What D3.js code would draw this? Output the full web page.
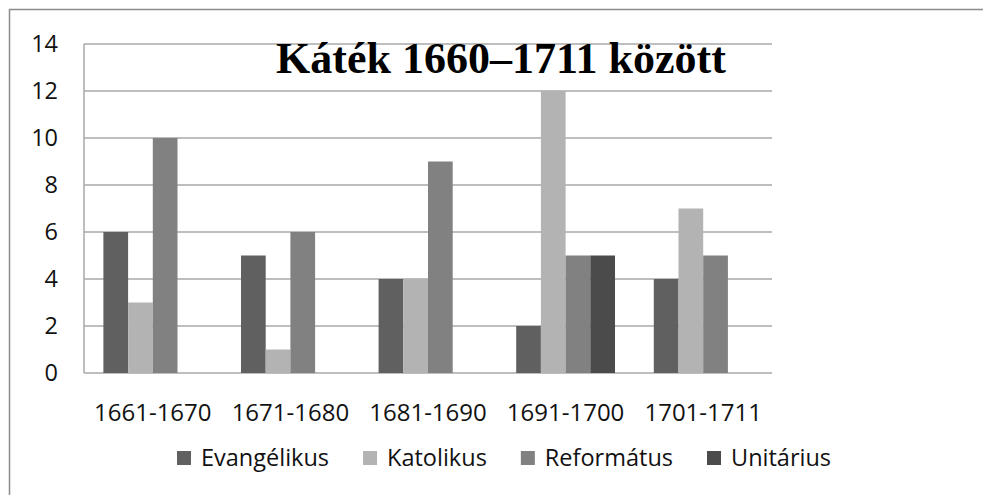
<!doctype html>
<html>
    <head>
        <meta charset="utf-8">
        <title>Káték 1660–1711 között</title>
        <style>
            body {
                margin: 0;
                overflow: hidden;
                background: #fff;
            }
            text {
                font-family: 'Open Sans', sans-serif;
                fill: #111;
            }
        </style>
    </head>
    <body>
        <script src="https://cdn.jsdelivr.net/npm/d3@7"></script>
        <script>

            const periods = ['1661-1670', '1671-1680', '1681-1690', '1691-1700', '1701-1711'];
            const series = ['Evangélikus', 'Katolikus', 'Református', 'Unitárius'];
            const evangelikus = [6, 5, 4, 2, 4];
            const katolikus = [3, 1, 4, 12, 7];
            const reformatus = [10, 6, 9, 5, 5];
            const unitarius = [0, 0, 0, 5, 0];
            const yTicks = [0, 2, 4, 6, 8, 10, 12, 14];
            const title = 'Káték 1660–1711 között';

            const colors = ['#606060', '#b3b3b3', '#818181', '#4b4b4b'];
            const values = [evangelikus, katolikus, reformatus, unitarius];

            const width = 983;
            const height = 495;

            const svg = d3.select('body')
                .append('svg')
                .attr('width', width)
                .attr('height', height);

            // outer frame, runs off the right and bottom edges
            svg.append('rect')
                .attr('x', 9.5)
                .attr('y', 9.5)
                .attr('width', width + 10)
                .attr('height', height + 10)
                .attr('fill', 'none')
                .attr('stroke', '#8c8c8c')
                .attr('stroke-width', 1.5);

            const x0 = d3.scaleBand()
                .domain(periods)
                .range([84, 772]);

            const x1 = d3.scaleBand()
                .domain(series)
                .range([0, x0.bandwidth()])
                .paddingOuter(0.785);

            const y = d3.scaleLinear()
                .domain([0, 14])
                .range([373, 44]);

            // gridlines
            svg.append('g')
                .selectAll('line')
                .data(yTicks)
                .join('line')
                .attr('x1', 84)
                .attr('x2', 772)
                .attr('y1', (d) => y(d))
                .attr('y2', (d) => y(d))
                .attr('stroke', '#a8a8a8')
                .attr('stroke-width', 1.5);

            // vertical axis line
            svg.append('line')
                .attr('x1', 84).attr('x2', 84)
                .attr('y1', y(14)).attr('y2', y(0))
                .attr('stroke', '#a8a8a8')
                .attr('stroke-width', 1.5);

            // y labels
            svg.append('g')
                .selectAll('text')
                .data(yTicks)
                .join('text')
                .attr('x', 58)
                .attr('y', (d) => y(d))
                .attr('dy', '0.35em')
                .attr('text-anchor', 'end')
                .attr('font-size', 23.5)
                .text((d) => d);

            // bars
            const groups = svg.append('g')
                .selectAll('g')
                .data(periods)
                .join('g')
                .attr('transform', (d) => `translate(${x0(d)},0)`);

            groups.selectAll('rect')
                .data((d, i) => series.map((s, j) => ({ s, j, v: values[j][i] })))
                .join('rect')
                .attr('x', (d) => x1(d.s))
                .attr('width', x1.bandwidth())
                .attr('y', (d) => y(d.v))
                .attr('height', (d) => y(0) - y(d.v))
                .attr('fill', (d) => colors[d.j]);

            // category labels
            svg.append('g')
                .selectAll('text')
                .data(periods)
                .join('text')
                .attr('x', (d) => x0(d) + x0.bandwidth() / 2)
                .attr('y', 421)
                .attr('text-anchor', 'middle')
                .attr('font-size', 24)
                .text((d) => d);

            // title
            svg.append('text')
                .attr('x', 501)
                .attr('y', 73)
                .attr('text-anchor', 'middle')
                .style('font-family', "'Liberation Serif', 'Times New Roman', serif")
                .style('font-weight', 'bold')
                .style('font-size', '44px')
                .style('fill', '#000')
                .text(title);

            // legend
            const legend = svg.append('g');
            let lx = 177;
            series.forEach((s, j) => {
                legend.append('rect')
                    .attr('x', lx)
                    .attr('y', 451)
                    .attr('width', 14)
                    .attr('height', 14)
                    .attr('fill', colors[j]);
                const t = legend.append('text')
                    .attr('x', lx + 24)
                    .attr('y', 466)
                    .attr('font-size', 23.5)
                    .text(s);
                lx += 24 + t.node().getComputedTextLength() + 34;
            });

        </script>
    </body>
</html>
